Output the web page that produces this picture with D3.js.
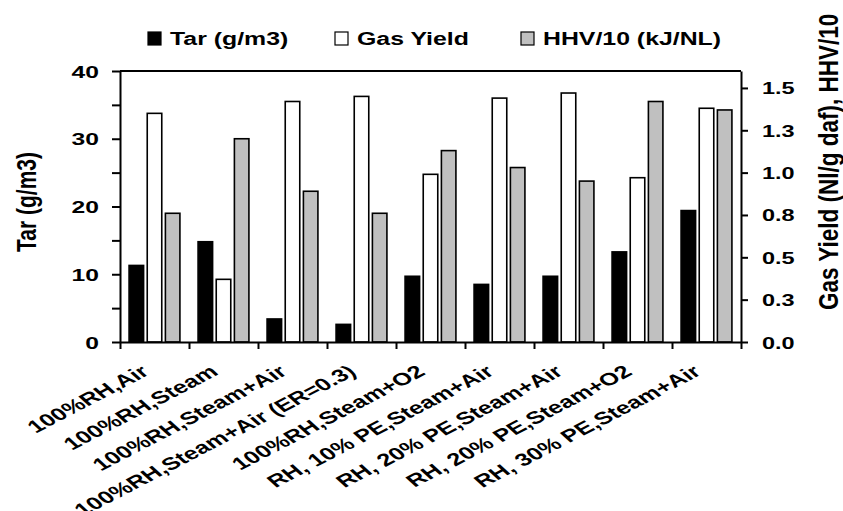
<!DOCTYPE html>
<html>
<head>
<meta charset="utf-8">
<script src="https://cdn.jsdelivr.net/npm/d3@7"></script>
<style>
  body { margin: 0; background: #fff; }
  svg { display: block; }
  text { font-family: "Liberation Sans", Arial, sans-serif; font-weight: bold; fill: #000; }
</style>
</head>
<body>
<svg id="chart" width="843" height="511"></svg>
<script>
// --- Data ---
const categories = [
  "100%RH,Air",
  "100%RH,Steam",
  "100%RH,Steam+Air",
  "100%RH,Steam+Air (ER=0.3)",
  "100%RH,Steam+O2",
  "RH, 10% PE,Steam+Air",
  "RH, 20% PE,Steam+Air",
  "RH, 20% PE,Steam+O2",
  "RH, 30% PE,Steam+Air"
];
const tar = [11.3, 14.8, 3.4, 2.6, 9.7, 8.5, 9.7, 13.3, 19.4];        // g/m3, left axis
const gasYield = [1.35, 0.37, 1.42, 1.45, 0.99, 1.44, 1.47, 0.97, 1.38]; // Nl/g daf, right axis
const hhv = [0.76, 1.20, 0.89, 0.76, 1.13, 1.03, 0.95, 1.42, 1.37];      // HHV/10, right axis

const leftTicks = [0, 5, 10, 15, 20, 25, 30, 35, 40];
const leftLabels = [0, 10, 20, 30, 40];
const rightTicks = [0, 0.25, 0.5, 0.75, 1.0, 1.25, 1.5];

const series = [
  { key: "tar", name: "Tar (g/m3)", values: tar, axis: "left", fill: "#000000" },
  { key: "gas", name: "Gas Yield", values: gasYield, axis: "right", fill: "#ffffff" },
  { key: "hhv", name: "HHV/10 (kJ/NL)", values: hhv, axis: "right", fill: "#c0c0c0" }
];

// --- Layout ---
const PLOT = { left: 120, right: 741, top: 71, bottom: 342 };

const svg = d3.select("#chart");

const x0 = d3.scaleBand().domain(categories).range([PLOT.left, PLOT.right]);
const x1 = d3.scaleBand().domain(series.map(s => s.key))
  .range([0, x0.bandwidth()]).paddingInner(0.2).paddingOuter(0.5);
const yLeft = d3.scaleLinear().domain([0, 40]).range([PLOT.bottom, PLOT.top]);
const yRight = d3.scaleLinear().domain([0, 1.6]).range([PLOT.bottom, PLOT.top]);

// --- Bars ---
const groups = svg.append("g").selectAll("g")
  .data(categories)
  .join("g")
  .attr("transform", d => `translate(${x0(d)},0)`);

groups.selectAll("rect")
  .data((c, i) => series.map(s => ({ s, v: s.values[i] })))
  .join("rect")
  .attr("x", d => x1(d.s.key))
  .attr("width", x1.bandwidth())
  .attr("y", d => (d.s.axis === "left" ? yLeft : yRight)(d.v))
  .attr("height", d => PLOT.bottom - (d.s.axis === "left" ? yLeft : yRight)(d.v))
  .attr("fill", d => d.s.fill)
  .attr("stroke", "#000")
  .attr("stroke-width", 1.6);

// --- Axes ---
const axisStyle = g => {
  g.selectAll(".domain").attr("stroke-width", 2);
  g.selectAll(".tick line").attr("stroke-width", 2);
  g.selectAll(".tick text").remove();
};

svg.append("g")
  .attr("transform", `translate(${PLOT.left},0)`)
  .call(d3.axisLeft(yLeft).tickValues(leftTicks).tickSize(8).tickSizeOuter(0))
  .call(axisStyle);

svg.append("g")
  .attr("transform", `translate(${PLOT.right},0)`)
  .call(d3.axisRight(yRight).tickValues(rightTicks).tickSize(7).tickSizeOuter(0))
  .call(axisStyle);

const boundaries = categories.map(c => x0(c)).concat([PLOT.right]);
svg.append("g")
  .attr("transform", `translate(0,${PLOT.bottom})`)
  .call(d3.axisBottom(d3.scaleLinear().domain([PLOT.left, PLOT.right]).range([PLOT.left, PLOT.right]))
    .tickValues(boundaries).tickSize(7).tickSizeOuter(0))
  .call(axisStyle);

// top border of the plot area
svg.append("line")
  .attr("x1", PLOT.left).attr("x2", PLOT.right)
  .attr("y1", PLOT.top).attr("y2", PLOT.top)
  .attr("stroke", "#000").attr("stroke-width", 2);

// --- Tick labels (stretched sideways like the source image) ---
svg.append("g").selectAll("text")
  .data(leftLabels)
  .join("text")
  .attr("transform", d => `translate(99,${yLeft(d) + 6.5}) scale(1.45,1)`)
  .attr("text-anchor", "end")
  .attr("font-size", 17)
  .text(d => d);

svg.append("g").selectAll("text")
  .data(rightTicks)
  .join("text")
  .attr("transform", d => `translate(762,${yRight(d) + 6.5}) scale(1.38,1)`)
  .attr("font-size", 17)
  .text(d => d.toFixed(1));

// category labels, rotated (the long fourth one runs off the bottom, as in the source)
svg.append("g").selectAll("text")
  .data(categories)
  .join("text")
  .attr("transform", d => `translate(${x0(d) + x0.bandwidth() / 2 - 4},374) scale(1.45,1) rotate(-37)`)
  .attr("text-anchor", "end")
  .attr("font-size", 17.5)
  .text(d => d);

// --- Axis titles ---
svg.append("text")
  .attr("transform", `translate(36,202) scale(1.35,1) rotate(-90)`)
  .attr("text-anchor", "middle")
  .attr("font-size", 21)
  .text("Tar (g/m3)");

svg.append("text")
  .attr("transform", `translate(838,310) scale(1.25,1) rotate(-90)`)
  .attr("font-size", 22.5)
  .text("Gas Yield (Nl/g daf), HHV/10");

// --- Legend ---
const legendX = [148, 335, 521];
const legend = svg.append("g").selectAll("g")
  .data(series)
  .join("g")
  .attr("transform", (d, i) => `translate(${legendX[i]},32)`);

legend.append("rect")
  .attr("width", 13).attr("height", 13)
  .attr("fill", d => d.fill)
  .attr("stroke", "#000").attr("stroke-width", 1.2);

legend.append("text")
  .attr("transform", `translate(22,13) scale(1.38,1)`)
  .attr("font-size", 18)
  .text(d => d.name);
</script>
</body>
</html>
